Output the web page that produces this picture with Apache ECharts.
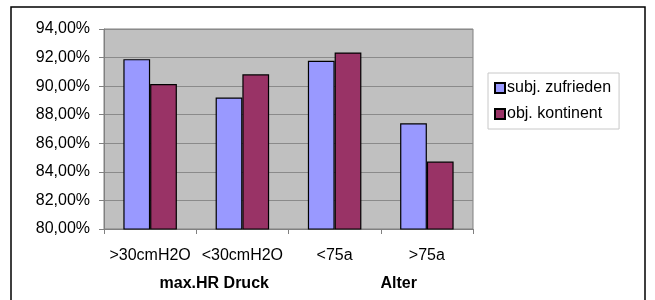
<!DOCTYPE html>
<html>
<head>
<meta charset="utf-8">
<script src="https://cdn.jsdelivr.net/npm/echarts@6/dist/echarts.min.js"></script>
<style>
  html, body { margin: 0; padding: 0; background: #fff; }
  #chart { width: 655px; height: 300px; }
</style>
</head>
<body>
<div id="chart"></div>
<script>
// categories and group labels
const categories = ['>30cmH2O', '<30cmH2O', '<75a', '>75a'];
const groups = ['max.HR Druck', 'Alter'];
// values in percent
const subjZufrieden = [91.89, 89.21, 91.77, 87.40];
const objKontinent = [90.15, 90.83, 92.36, 84.72];
const yTicks = { min: 80, max: 94, step: 2 };

const font = 'Liberation Sans, Arial, sans-serif';

const chart = echarts.init(document.getElementById('chart'));
const option = {
  backgroundColor: '#fff',
  animation: false,
  textStyle: { fontFamily: font },
  graphic: [{
    type: 'rect',
    z: -1,
    shape: { x: 11, y: 7, width: 634, height: 300 },
    style: { fill: 'none', stroke: '#000', lineWidth: 1.5 }
  }],
  legend: {
    orient: 'vertical',
    left: 488,
    top: 73,
    padding: [7, 8, 7, 6],
    itemGap: 10,
    itemWidth: 10,
    itemHeight: 10,
    icon: 'rect',
    borderColor: '#c8c8c8',
    borderWidth: 1,
    textStyle: { fontSize: 16, color: '#000', padding: [0, 0, 0, -3] },
    data: ['subj. zufrieden', 'obj. kontinent']
  },
  grid: {
    left: 104,
    right: 182,
    top: 29,
    bottom: 71,
    show: true,
    backgroundColor: '#c0c0c0',
    borderColor: '#808080',
    borderWidth: 1
  },
  xAxis: [{
    type: 'category',
    data: categories,
    axisLine: { lineStyle: { color: '#808080' } },
    axisTick: { show: true, length: 5, lineStyle: { color: '#808080' } },
    axisLabel: { color: '#000', fontSize: 16, margin: 19, interval: 0 }
  }, {
    type: 'category',
    data: groups,
    position: 'bottom',
    offset: 39,
    axisLine: { show: false },
    axisTick: { show: false },
    axisLabel: { color: '#000', fontSize: 16, fontWeight: 'bold', interval: 0, padding: [0, 0, 0, 36] }
  }],
  yAxis: {
    type: 'value',
    min: yTicks.min,
    max: yTicks.max,
    interval: yTicks.step,
    axisLine: { show: true, lineStyle: { color: '#808080' } },
    axisTick: { show: true, length: 5, lineStyle: { color: '#808080' } },
    splitLine: { lineStyle: { color: '#8a8a8a' } },
    axisLabel: {
      color: '#000',
      fontSize: 16,
      margin: 14,
      formatter: v => v.toFixed(2).replace('.', ',') + '%'
    }
  },
  series: [{
    name: 'subj. zufrieden',
    type: 'bar',
    data: subjZufrieden,
    barGap: '0%',
    barCategoryGap: '42%',
    itemStyle: { color: '#9999ff', borderColor: '#000', borderWidth: 1.2 }
  }, {
    name: 'obj. kontinent',
    type: 'bar',
    data: objKontinent,
    itemStyle: { color: '#993366', borderColor: '#000', borderWidth: 1.2 }
  }]
};
chart.setOption(option);
</script>
</body>
</html>
